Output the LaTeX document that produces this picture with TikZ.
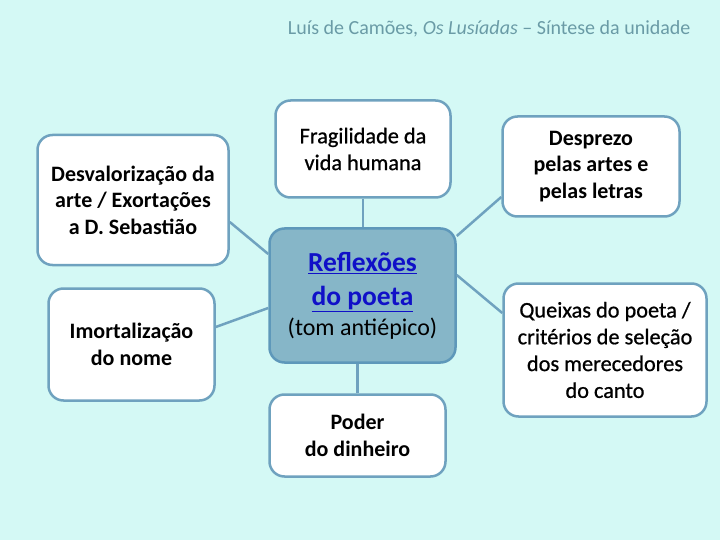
\documentclass[tikz,border=0pt]{standalone}
\usepackage{fontspec}
\setmainfont{Carlito}
\newfontfamily\medfont[FakeBold=0.8]{Carlito}
\usetikzlibrary{positioning}
\definecolor{sea}{HTML}{D4F9F5}
\definecolor{edge}{HTML}{6FA2BF}
\definecolor{core}{HTML}{86B6C8}
\definecolor{coreedge}{HTML}{5E98BA}
\definecolor{linkblue}{HTML}{1010C8}
\definecolor{caption}{HTML}{6A9BA6}

\begin{document}
\begin{tikzpicture}[x=1pt,y=-1pt,
 topic/.style={draw=edge,line width=2.5pt,rounded corners=15pt,fill=white,align=center,
 font=\fontsize{22}{26.5}\selectfont\bfseries,inner sep=0pt},
 plain/.style={font=\medfont\fontsize{22.3}{26.8}\selectfont},
 link/.style={draw=edge,line width=2.5pt}]
\fill[sea] (0,0) rectangle (720,540);
\node[font=\fontsize{20}{24}\selectfont,text=caption,anchor=base east] (title) at (694,35)
 {Luís de Camões, \emph{Os Lusíadas} – Síntese da unidade};
\node[topic,plain,minimum width=175pt,minimum height=97pt] (frag) at (363,149) {Fragilidade da\\vida humana};
\node[topic,fill=core,draw=coreedge,minimum width=186pt,minimum height=134pt,
 font=\fontsize{27.5}{34}\selectfont\bfseries] (refl) at (362.5,295.5)
 {\textcolor{linkblue}{\underline{Reflexões}}\\\textcolor{linkblue}{\underline{do poeta}}\\[-4pt]
 {\mdseries\fontsize{24}{28}\selectfont(tom antiépico)}};
\node[topic,minimum width=191pt,minimum height=130pt] (desval) at (133,200)
 {Desvalorização da\\arte / Exortações\\a D. Sebastião};
\node[topic,minimum width=166pt,minimum height=112pt] (imort) at (131.5,344.5) {Imortalização\\do nome};
\node[topic,minimum width=176pt,minimum height=82pt] (poder) at (357.5,435.5) {Poder\\do dinheiro};
\node[topic,minimum width=177pt,minimum height=100pt] (despr) at (591,166.5) {Desprezo\\pelas artes e\\pelas letras};
\node[topic,plain,minimum width=203pt,minimum height=133pt] (queix) at (605,350)
 {Queixas do poeta /\\critérios de seleção\\dos merecedores\\do canto};
% ligações ao centro
\draw[link] (frag.south) -- (frag.south |- refl.north);
\draw[link] (poder.north) -- (poder.north |- refl.south);
\draw[link] ([yshift=-22pt]desval.east) -- ([yshift=41.5pt]refl.west);
\draw[link] ([yshift=17.5pt]imort.east) -- ([yshift=-12.5pt]refl.west);
\draw[link] ([yshift=59.5pt]refl.east) -- ([yshift=-30.5pt]despr.west);
\draw[link] ([yshift=20.5pt]refl.east) -- ([yshift=37pt]queix.west);
\end{tikzpicture}
\end{document}
